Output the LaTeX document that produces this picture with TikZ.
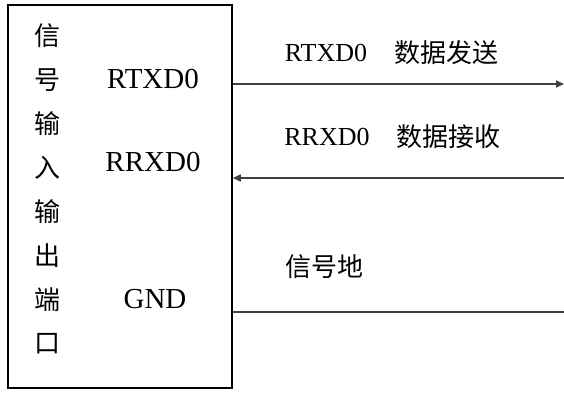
\documentclass[tikz,border=0pt]{standalone}
\usepackage{fontspec}
\setmainfont{Liberation Serif}
\newfontfamily\cjk{Noto Sans CJK SC}
\usetikzlibrary{arrows.meta}
\begin{document}
\begin{tikzpicture}[x=1pt,y=-1pt,
  wire/.style={line width=1.6pt,draw=black!75},
  tip/.style={-{Triangle[length=8pt,width=7pt]}},
  col/.style={font=\cjk\fontsize{26}{26}\selectfont,inner sep=0pt},
  cn/.style={font=\cjk\fontsize{26}{26}\selectfont,inner sep=0pt},
  lat/.style={font=\fontsize{29}{29}\selectfont,inner sep=0pt},
  latr/.style={font=\fontsize{26}{26}\selectfont,inner sep=0pt}]
\useasboundingbox (0,0) rectangle (564,392);
\node[draw,line width=1.6pt,minimum width=224pt,minimum height=383pt,inner sep=0pt] (box) at (120,196.5) {};
% vertical column
\node[col] (c1) at (47.5,36) {信};
\node[col] (c2) at (47.5,80) {号};
\node[col] (c3) at (47.5,124) {输};
\node[col] (c4) at (47.5,168) {入};
\node[col] (c5) at (47.5,212) {输};
\node[col] (c6) at (47.5,256) {出};
\node[col] (c7) at (47.5,300) {端};
\node[col] (c8) at (47.5,344) {口};
% labels inside box
\node[lat] (p1) at (153,79) {RTXD0};
\node[lat] (p2) at (153,162) {RRXD0};
\node[lat] (p3) at (155,299) {GND};
% labels on the right
\node[latr] (t1) at (326,53) {RTXD0};
\node[cn] (t1c) at (446,53) {数据发送};
\node[latr] (t2) at (327,137) {RRXD0};
\node[cn] (t2c) at (448,137) {数据接收};
\node[cn] (t3c) at (324,267) {信号地};
% wires
\coordinate (e1) at (564,84);
\coordinate (e2) at (564,178);
\coordinate (e3) at (564,312);
\draw[wire,tip] (box.east |- e1) -- (e1);
\draw[wire,tip] (e2) -- (box.east |- e2);
\draw[wire] (box.east |- e3) -- (e3);
\end{tikzpicture}
\end{document}
